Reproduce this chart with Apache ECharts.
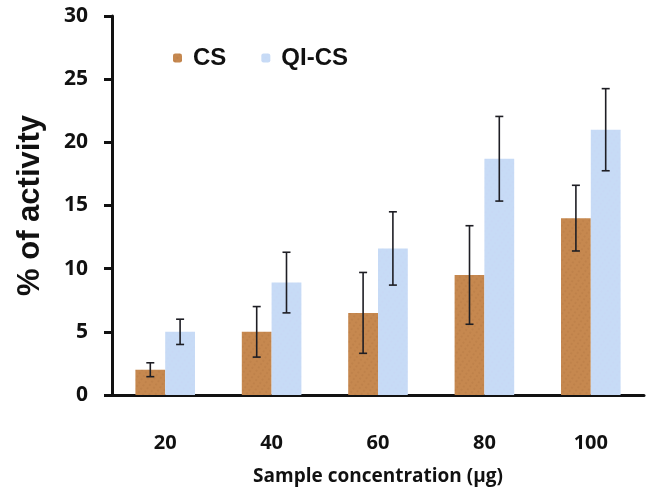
<!DOCTYPE html>
<html>
<head>
<meta charset="utf-8">
<script src="https://cdn.jsdelivr.net/npm/echarts@6/dist/echarts.min.js"></script>
<style>
  html, body { margin: 0; padding: 0; background: #fff; }
  #main { width: 653px; height: 492px; }
</style>
</head>
<body>
<div id="main"></div>
<script>
const categories = ["20", "40", "60", "80", "100"];
const csValues = [2.0, 5.0, 6.5, 9.5, 14.0];
const csErrors = [0.55, 2.0, 3.2, 3.9, 2.6];
const qiValues = [5.0, 8.9, 11.6, 18.7, 21.0];
const qiErrors = [1.0, 2.4, 2.9, 3.35, 3.25];

const chartDom = document.getElementById("main");
const myChart = echarts.init(chartDom);

const labelFont = "'Open Sans', 'DejaVu Sans', sans-serif";
const arialFont = "'Liberation Sans', Arial, sans-serif";

// error bar drawn beside each bar, side = -1 (CS) or 1 (QI-CS)
function errorBar(values, errors, side) {
  return {
    type: "custom",
    silent: true,
    z: 10,
    data: values.map((v, i) => [i, v, errors[i]]),
    renderItem: (params, api) => {
      const idx = api.value(0);
      const band = api.size([1, 0])[0];
      const off = side * band * 0.14;
      const top = api.coord([idx, api.value(1) + api.value(2)]);
      const bot = api.coord([idx, api.value(1) - api.value(2)]);
      const x = top[0] + off;
      const cap = 4;
      const style = { stroke: "#1e1e24", lineWidth: 1.6 };
      return {
        type: "group",
        children: [
          { type: "line", shape: { x1: x, y1: top[1], x2: x, y2: bot[1] }, style: style },
          { type: "line", shape: { x1: x - cap, y1: top[1], x2: x + cap, y2: top[1] }, style: style },
          { type: "line", shape: { x1: x - cap, y1: bot[1], x2: x + cap, y2: bot[1] }, style: style },
        ],
      };
    },
  };
}

const option = {
  animation: false,
  grid: { left: 112, right: 9, top: 16, bottom: 97 },
  legend: {
    left: 168,
    top: 41,
    itemWidth: 9,
    itemHeight: 9,
    itemGap: 35,
    data: ["CS", "QI-CS"],
    textStyle: {
      fontSize: 24,
      fontWeight: "bold",
      color: "#111",
      fontFamily: arialFont,
      padding: [0, 0, 0, 6],
    },
  },
  xAxis: {
    type: "category",
    data: categories,
    name: "Sample concentration (µg)",
    nameLocation: "middle",
    nameGap: 72,
    nameTextStyle: { fontSize: 19, fontWeight: "bold", color: "#111", fontFamily: labelFont },
    axisLine: { lineStyle: { color: "#111", width: 3 } },
    axisTick: { length: 8, inside: false, lineStyle: { color: "#111", width: 3 } },
    axisLabel: { margin: 38, fontSize: 20, fontWeight: "bold", color: "#111", fontFamily: labelFont },
  },
  yAxis: {
    type: "value",
    min: 0,
    max: 30,
    interval: 5,
    name: "% of activity",
    nameLocation: "middle",
    nameGap: 66,
    nameTextStyle: { fontSize: 31, fontWeight: "bold", color: "#111", fontFamily: arialFont },
    splitLine: { show: false },
    axisLine: { show: true, lineStyle: { color: "#111", width: 3 } },
    axisTick: { show: true, length: 8, lineStyle: { color: "#111", width: 3 } },
    axisLabel: { margin: 24, fontSize: 21, fontWeight: "bold", color: "#111", fontFamily: labelFont },
  },
  series: [
    {
      name: "CS",
      type: "bar",
      data: csValues,
      barWidth: "28%",
      barGap: "0%",
      itemStyle: {
        color: "#c6884f",
        decal: {
          symbol: "circle",
          symbolSize: 0.6,
          color: "rgba(110,60,25,0.35)",
          dashArrayX: [2, 3],
          dashArrayY: [2, 2],
          rotation: 0.6,
        },
      },
    },
    {
      name: "QI-CS",
      type: "bar",
      data: qiValues,
      barWidth: "28%",
      barGap: "0%",
      itemStyle: {
        color: "#c7dbf6",
        decal: {
          symbol: "circle",
          symbolSize: 0.6,
          color: "rgba(205,195,238,0.45)",
          dashArrayX: [2, 3],
          dashArrayY: [2, 2],
          rotation: 0.6,
        },
      },
    },
    errorBar(csValues, csErrors, -1),
    errorBar(qiValues, qiErrors, 1),
  ],
};

myChart.setOption(option);
</script>
</body>
</html>
